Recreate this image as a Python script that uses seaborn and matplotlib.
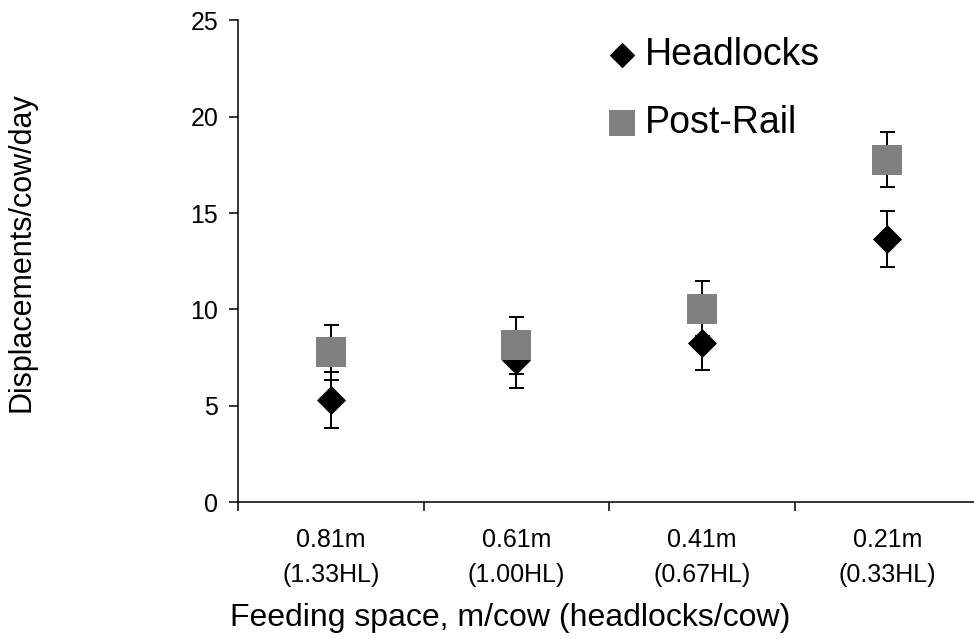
import numpy as np
import pandas as pd
import matplotlib
matplotlib.use("Agg")
import matplotlib.pyplot as plt
import seaborn as sns

# ---- data ----
categories = ["0.81m\n(1.33HL)", "0.61m\n(1.00HL)", "0.41m\n(0.67HL)", "0.21m\n(0.33HL)"]
headlocks = [5.28, 7.37, 8.27, 13.65]
headlocks_err = [1.45, 1.47, 1.42, 1.45]
postrail = [7.77, 8.14, 10.04, 17.78]
postrail_err = [1.44, 1.47, 1.42, 1.44]
series_names = ["Headlocks", "Post-Rail"]
y_ticks = [0, 5, 10, 15, 20, 25]
x_label = "Feeding space, m/cow (headlocks/cow)"
y_label = "Displacements/cow/day"

sns.set_style("ticks", {"axes.edgecolor": "black", "text.color": "black",
                        "axes.labelcolor": "black", "xtick.color": "black",
                        "ytick.color": "black"})
plt.rcParams["font.family"] = ["Liberation Sans", "DejaVu Sans"]

fig = plt.figure(figsize=(9.74, 6.39), dpi=100)
ax = fig.add_axes([238 / 974, 1 - 502 / 639, 742 / 974, (502 - 20.5) / 639])

# Headlocks: error bars then diamonds
ax.errorbar(categories, headlocks, yerr=headlocks_err, fmt="none", ecolor="black",
            elinewidth=1.4, capsize=5.4, capthick=1.4, zorder=2)
sns.scatterplot(x=categories, y=headlocks, marker="D", color="black", s=219,
                linewidth=0, zorder=3, label=series_names[0], ax=ax)
# Post-Rail: error bars then squares
ax.errorbar(categories, postrail, yerr=postrail_err, fmt="none", ecolor="black",
            elinewidth=1.4, capsize=5.4, capthick=1.4, zorder=4)
sns.scatterplot(x=categories, y=postrail, marker="s", color="#808080", s=436,
                linewidth=0, zorder=5, label=series_names[1], ax=ax)

ax.set_ylim(0, 25)
ax.set_yticks(y_ticks)
ax.set_xlim(-0.5, 3.5)
ax.set_xticks(range(len(categories)))
ax.set_xticklabels(categories, linespacing=1.58)
ax.set_xticks(np.arange(-0.5, len(categories), 1.0), minor=True)
ax.tick_params(axis="x", which="major", length=0, pad=18.5, labelsize=18, colors="black")
ax.tick_params(axis="x", which="minor", length=6.3, width=1.1, direction="out", colors="black")
ax.tick_params(axis="y", length=6.3, width=1.1, pad=8, labelsize=18, colors="black")
sns.despine(ax=ax)
for s in ["left", "bottom"]:
    ax.spines[s].set_linewidth(1.1)
    ax.spines[s].set_color("black")

ax.set_xlabel(x_label, fontsize=23, color="black")
ax.set_ylabel(y_label, fontsize=22, color="black")
ax.xaxis.set_label_coords((510 - 238) / 742, (502 - 603) / 481.5)
ax.yaxis.set_label_coords((37 - 238) / 742, (502 - 252) / 481.5)

leg = ax.legend(loc="upper left", bbox_to_anchor=((607 - 238) / 742, (502 - 37) / 481.5),
                frameon=False, fontsize=27, markerscale=0.88, handlelength=0.8,
                handletextpad=0.2, labelspacing=0.85, borderpad=0, borderaxespad=0)
for t in leg.get_texts():
    t.set_color("black")

fig.savefig("out.png", dpi=100)
